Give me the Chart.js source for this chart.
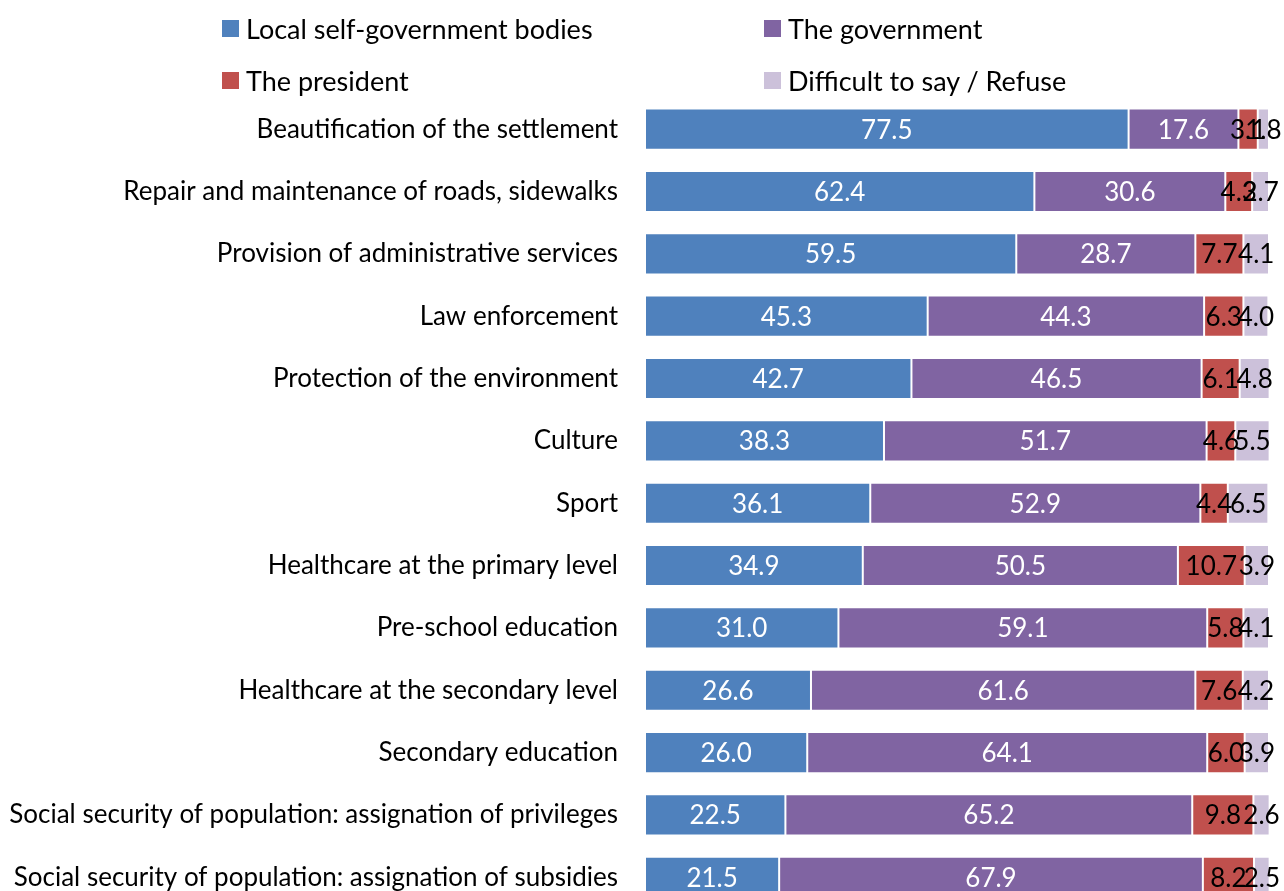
<!DOCTYPE html>
<html>
<head>
<meta charset="utf-8">
<script src="https://cdn.jsdelivr.net/npm/chart.js@4/dist/chart.umd.min.js"></script>
<style>
  html, body { margin: 0; padding: 0; background: #fff; overflow: hidden; width: 1284px; height: 891px; }
  #wrap { position: absolute; left: 0; top: 0; width: 1284px; height: 951px; }
  #c { display: block; width: 1284px; height: 951px; }
  #legend { position: absolute; left: 0; top: 0; width: 1284px; height: 100px; font-family: Lato, sans-serif; font-size: 27px; color: #000; }
  .li { position: absolute; display: flex; align-items: center; white-space: nowrap; height: 34px; }
  .sw { width: 17px; height: 17px; margin-right: 7px; }
</style>
</head>
<body>
<div id="wrap"><canvas id="c"></canvas></div>
<div id="legend"></div>
<script>
const categories = [
  "Beautification of the settlement",
  "Repair and maintenance of roads, sidewalks",
  "Provision of administrative services",
  "Law enforcement",
  "Protection of the environment",
  "Culture",
  "Sport",
  "Healthcare at the primary level",
  "Pre-school education",
  "Healthcare at the secondary level",
  "Secondary education",
  "Social security of population: assignation of privileges",
  "Social security of population: assignation of subsidies"
];
const seriesNames = ["Local self-government bodies", "The government", "The president", "Difficult to say / Refuse"];
const localGov   = [77.5, 62.4, 59.5, 45.3, 42.7, 38.3, 36.1, 34.9, 31.0, 26.6, 26.0, 22.5, 21.5];
const government = [17.6, 30.6, 28.7, 44.3, 46.5, 51.7, 52.9, 50.5, 59.1, 61.6, 64.1, 65.2, 67.9];
const president  = [3.1, 4.3, 7.7, 6.3, 6.1, 4.6, 4.4, 10.7, 5.8, 7.6, 6.0, 9.8, 8.2];
const difficult  = [1.8, 2.7, 4.1, 4.0, 4.8, 5.5, 6.5, 3.9, 4.1, 4.2, 3.9, 2.6, 2.5];

const colors = ["#4F81BD", "#8064A2", "#C0504D", "#CCC1DA"];
const labelColors = ["#ffffff", "#ffffff", "#000000", "#000000"];
const seriesData = [localGov, government, president, difficult];

const datasets = seriesData.map((d, i) => ({
  label: seriesNames[i],
  data: d,
  backgroundColor: colors[i],
  borderColor: "rgba(255,255,255,0.35)",
  borderWidth: 1,
  borderSkipped: false,
  barPercentage: 0.66,
  categoryPercentage: 1.0
}));

const valueLabels = {
  id: "valueLabels",
  afterDatasetsDraw(chart) {
    const ctx = chart.ctx;
    ctx.save();
    ctx.font = "26px Lato, sans-serif";
    ctx.textAlign = "center";
    ctx.textBaseline = "middle";
    chart.data.datasets.forEach((ds, di) => {
      const meta = chart.getDatasetMeta(di);
      meta.data.forEach((bar, i) => {
        const v = ds.data[i];
        const cx = (bar.x + bar.base) / 2;
        ctx.fillStyle = labelColors[di];
        ctx.fillText(v.toFixed(1), cx, bar.y + 1);
      });
    });
    ctx.restore();
  }
};

const chart = new Chart(document.getElementById("c"), {
  type: "bar",
  data: { labels: categories, datasets },
  options: {
    indexAxis: "y",
    responsive: true,
    maintainAspectRatio: false,
    animation: false,
    layout: { padding: { top: 98, right: 15, bottom: 0, left: 0 } },
    plugins: { legend: { display: false }, tooltip: { enabled: false } },
    scales: {
      x: { stacked: true, min: 0, max: 100, display: false },
      y: {
        stacked: true,
        grid: { display: false, drawTicks: false },
        border: { display: false },
        ticks: { color: "#000", font: { family: "Lato, sans-serif", size: 26 }, padding: 27, autoSkip: false },
        afterFit(scale) { scale.width = 645; }
      }
    }
  },
  plugins: [valueLabels]
});

// HTML legend from dataset names
const legend = document.getElementById("legend");
const pos = [[222, 28], [764, 28], [222, 80], [764, 80]];
[0, 1, 2, 3].forEach((di, k) => {
  const el = document.createElement("div");
  el.className = "li";
  el.style.left = pos[k][0] + "px";
  el.style.top = (pos[k][1] - 17) + "px";
  el.innerHTML = '<span class="sw" style="background:' + colors[di] + '"></span><span>' + seriesNames[di] + '</span>';
  legend.appendChild(el);
});
</script>
</body>
</html>
